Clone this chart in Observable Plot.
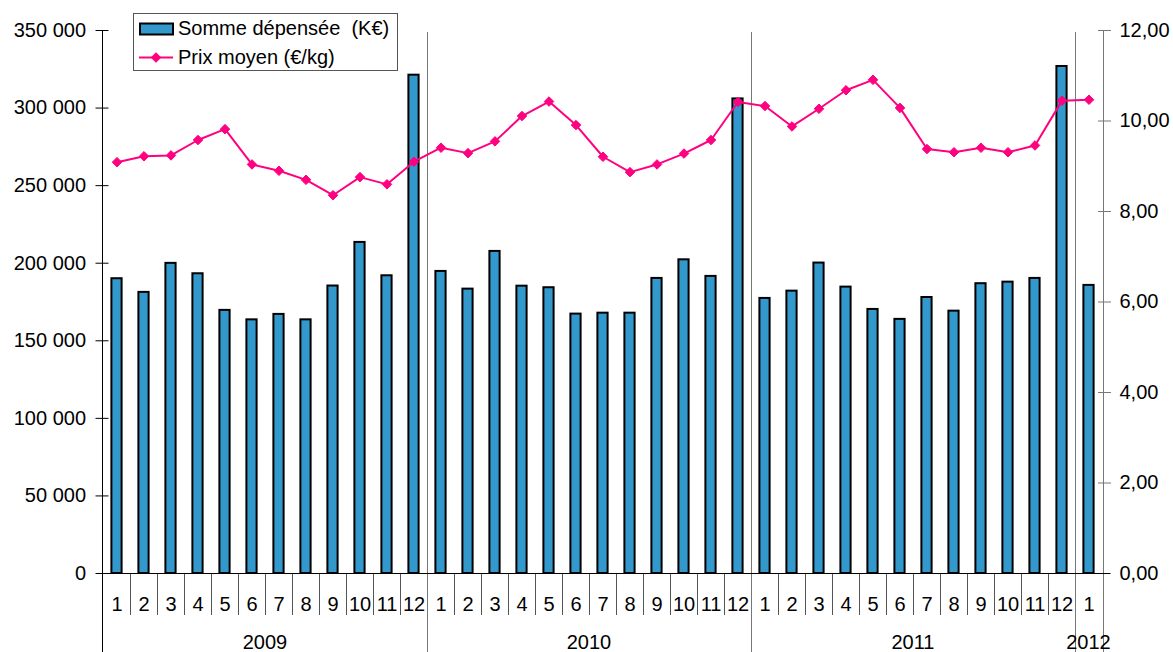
<!DOCTYPE html>
<html>
<head>
<meta charset="utf-8">
<script src="https://cdn.jsdelivr.net/npm/d3@7"></script>
<script src="https://cdn.jsdelivr.net/npm/@observablehq/plot@0.6"></script>
<style>
  body { margin: 0; background: #fff; }
  #wrap { position: relative; width: 1173px; height: 652px; font-family: "Liberation Sans", Arial, sans-serif; }
  #legend { position: absolute; left: 133px; top: 13px; }
</style>
</head>
<body>
<div id="wrap"></div>
<script>
// ---- data ----
const periodYear = [
  "2009","2009","2009","2009","2009","2009","2009","2009","2009","2009","2009","2009",
  "2010","2010","2010","2010","2010","2010","2010","2010","2010","2010","2010","2010",
  "2011","2011","2011","2011","2011","2011","2011","2011","2011","2011","2011","2011",
  "2012"
];
const periodMonth = [
  "1","2","3","4","5","6","7","8","9","10","11","12",
  "1","2","3","4","5","6","7","8","9","10","11","12",
  "1","2","3","4","5","6","7","8","9","10","11","12",
  "1"
];
const sommeDepensee = [
  190000, 181200, 199900, 193200, 169600, 163500, 167000, 163500, 185300, 213400, 191900, 321200,
  194700, 183300, 207600, 185200, 184200, 167200, 167800, 167800, 190200, 202200, 191500, 305900,
  177300, 182000, 200100, 184600, 170200, 163800, 177900, 169100, 186800, 187800, 190200, 326800,
  185700
];
const prixMoyen = [
  9.09, 9.22, 9.24, 9.58, 9.82, 9.04, 8.90, 8.70, 8.36, 8.76, 8.60, 9.10,
  9.41, 9.29, 9.55, 10.11, 10.43, 9.91, 9.21, 8.87, 9.04, 9.28, 9.58, 10.42,
  10.33, 9.88, 10.27, 10.68, 10.91, 10.29, 9.38, 9.31, 9.41, 9.31, 9.46, 10.45,
  10.47
];
const leftTicks = [0, 50000, 100000, 150000, 200000, 250000, 300000, 350000];
const rightTicks = [0, 2, 4, 6, 8, 10, 12];
const leftMax = 350000, rightMax = 12;
const seriesNames = ["Somme dépensée  (K€)", "Prix moyen (€/kg)"];

// ---- build table ----
const k = leftMax / rightMax;
const keys = periodYear.map((y, i) => y + "-" + periodMonth[i]);
const data = keys.map((key, i) => ({key, year: periodYear[i], month: periodMonth[i], spend: sommeDepensee[i], price: prixMoyen[i], py: prixMoyen[i] * k}));
const monthOf = new Map(data.map(d => [d.key, d.month]));

const BAR = "#3399cc", LINE = "#ff0080";
const fmtLeft = d => d3.format(",")(d).replace(/,/g, " ");
const fmtRight = d => (d / k).toFixed(2).replace(".", ",");

const chart = Plot.plot({
  width: 1173, height: 652,
  marginLeft: 102, marginRight: 70, marginTop: 30, marginBottom: 79,
  style: { fontFamily: "'Liberation Sans', Arial, sans-serif", fontSize: "20px", background: "#fff", color: "#000", overflow: "visible" },
  x: { type: "band", domain: keys, padding: 0, axis: null },
  y: { domain: [0, leftMax], axis: null },
  marks: [
    Plot.barY(data, { x: "key", y: "spend", fill: BAR, stroke: "#000", strokeWidth: 2, insetLeft: 8.4, insetRight: 8.4 }),
    Plot.line(data, { x: "key", y: "py", stroke: LINE, strokeWidth: 2 }),
    Plot.dot(data, { x: "key", y: "py", symbol: "diamond2", r: 4.3, fill: LINE, stroke: LINE, strokeWidth: 1 }),
    Plot.axisY({ anchor: "left", label: null, ticks: leftTicks, tickFormat: fmtLeft, tickSize: 13, dx: 6.5, tickPadding: 10, stroke: "#000" }),
    Plot.axisY({ anchor: "right", label: null, ticks: rightTicks.map(v => v * k), tickFormat: fmtRight, tickSize: 13, dx: -6, tickPadding: 9, stroke: "#777" }),
    Plot.axisX({ anchor: "bottom", label: null, tickSize: 0, tickPadding: 23, tickFormat: d => monthOf.get(d) })
  ]
});
document.getElementById("wrap").appendChild(chart);

// ---- structural lines and year labels drawn from Plot's own scales ----
const xs = chart.scale("x"), ys = chart.scale("y");
const [xL, xR] = xs.range;
const yTop = ys.apply(leftMax), yBase = ys.apply(0);
const H = 652;
const svg = d3.select(chart);
const back = svg.insert("g", ":first-child").attr("shape-rendering", "crispEdges");
const front = svg.append("g").attr("shape-rendering", "crispEdges");

for (let i = 1; i < keys.length; i++) {
  const bx = xs.apply(keys[i]);
  if (periodYear[i] !== periodYear[i - 1]) {
    back.append("line").attr("x1", bx).attr("x2", bx).attr("y1", yTop + 2).attr("y2", H)
      .attr("stroke", "#777").attr("stroke-width", 1);
  } else {
    front.append("line").attr("x1", bx).attr("x2", bx).attr("y1", yBase).attr("y2", yBase + 42)
      .attr("stroke", "#555").attr("stroke-width", 1);
  }
}
// axis lines
front.append("line").attr("x1", xL).attr("x2", xL).attr("y1", yTop).attr("y2", H).attr("stroke", "#000");
front.append("line").attr("x1", xR).attr("x2", xR).attr("y1", yTop).attr("y2", H).attr("stroke", "#777");
front.append("line").attr("x1", xL - 6.5).attr("x2", xR + 7).attr("y1", yBase).attr("y2", yBase).attr("stroke", "#000");

// year labels
const years = Array.from(new Set(periodYear));
for (const y of years) {
  const idx = periodYear.map((v, i) => v === y ? i : -1).filter(i => i >= 0);
  const cx = (xs.apply(keys[idx[0]]) + xs.apply(keys[idx[idx.length - 1]]) + xs.bandwidth) / 2;
  svg.append("text").attr("x", cx).attr("y", yBase + 76).attr("text-anchor", "middle")
    .attr("fill", "#000").style("font-size", "20px").text(y);
}

// ---- legend ----
const lg = d3.select("#wrap").append("svg").attr("id", "legend").attr("width", 266).attr("height", 59)
  .style("font-family", "'Liberation Sans', Arial, sans-serif").style("font-size", "20px");
lg.append("rect").attr("x", 0.5).attr("y", 0.5).attr("width", 264).attr("height", 57)
  .attr("fill", "#fff").attr("stroke", "#555").attr("stroke-width", 1);
lg.append("rect").attr("x", 7).attr("y", 10.5).attr("width", 33).attr("height", 11)
  .attr("fill", BAR).attr("stroke", "#000").attr("stroke-width", 2);
lg.append("text").attr("x", 45).attr("y", 22).attr("fill", "#000").style("white-space", "pre").text(seriesNames[0]);
lg.append("line").attr("x1", 6).attr("x2", 40).attr("y1", 44.5).attr("y2", 44.5).attr("stroke", LINE).attr("stroke-width", 2);
lg.append("path").attr("d", d3.symbol(d3.symbolDiamond2, 70)()).attr("transform", "translate(23,44.5)").attr("fill", LINE);
lg.append("text").attr("x", 45).attr("y", 51).attr("fill", "#000").text(seriesNames[1]);
</script>
</body>
</html>
